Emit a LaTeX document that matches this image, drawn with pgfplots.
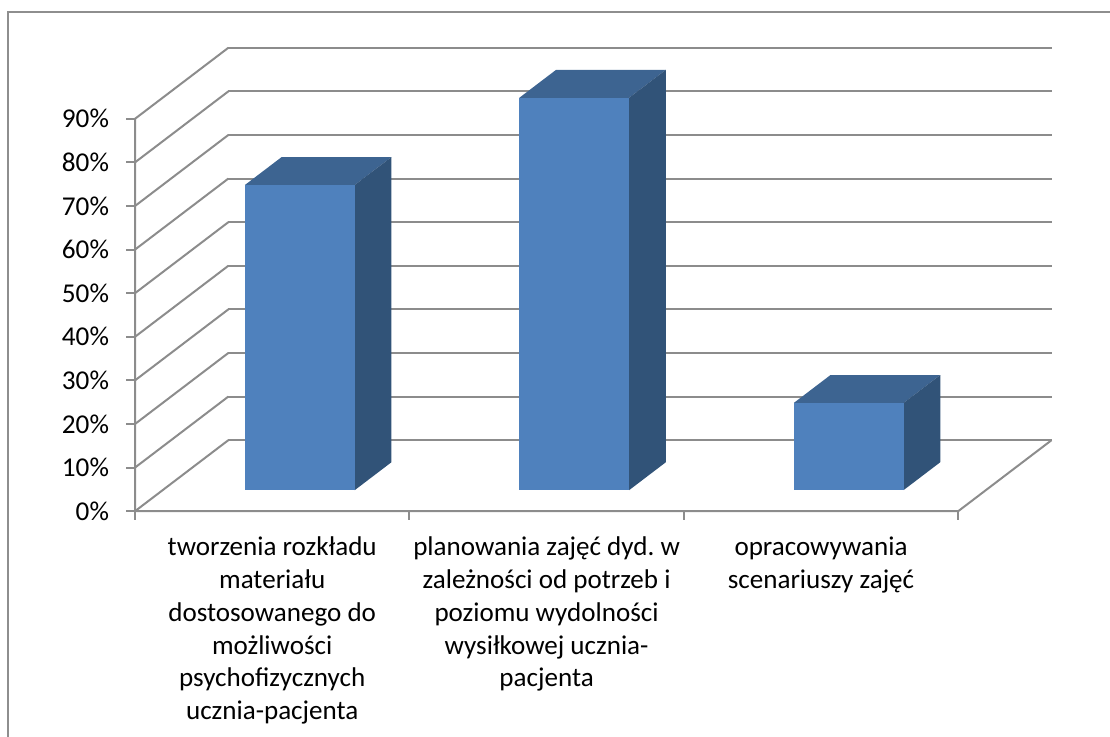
\documentclass[border=0pt]{standalone}
\usepackage{fontspec}
\setmainfont{Carlito}
\usepackage{pgfplots}
\pgfplotsset{compat=1.18}
\frenchspacing

\definecolor{linegray}{HTML}{8C8C8C}
\definecolor{framegray}{HTML}{8E8E8E}
\definecolor{barfront}{HTML}{4F81BD}
\definecolor{bartop}{HTML}{3D6491}
\definecolor{barside}{HTML}{315378}

% one 3D column: centre on the x axis, value in percent
\newcommand{\slupek}[2]{%
  \addplot3[fill=bartop,draw=none] coordinates
    {(#1-0.2,0.296,#2) (#1+0.2,0.296,#2) (#1+0.2,0.69,#2) (#1-0.2,0.69,#2)} --cycle;
  \addplot3[fill=barside,draw=none] coordinates
    {(#1+0.2,0.296,0) (#1+0.2,0.69,0) (#1+0.2,0.69,#2) (#1+0.2,0.296,#2)} --cycle;
  \addplot3[fill=barfront,draw=none] coordinates
    {(#1-0.2,0.296,0) (#1+0.2,0.296,0) (#1+0.2,0.296,#2) (#1-0.2,0.296,#2)} --cycle;
}

\begin{document}
\begin{tikzpicture}
\path[use as bounding box] (0,0) rectangle (832.5pt,552.75pt);
\draw[framegray,line width=1.1pt] (6pt,0pt) -- (6pt,543.75pt) -- (832.5pt,543.75pt);

\begin{axis}[
  at={(101.25pt,169.35pt)},anchor=origin,
  x={(205.8pt,0pt)},y={(70pt,53.25pt)},z={(0pt,3.27pt)},
  xmin=0,xmax=3,ymin=0,ymax=1,zmin=0,zmax=90,
  clip=false,
  axis line style={draw=none},
  tick style={draw=none},
  ytick=\empty,
  xtick={0.5,1.5,2.5},
  xticklabels={
    {tworzenia rozkładu\\materiału\\dostosowanego do\\możliwości\\psychofizycznych\\ucznia-pacjenta},
    {planowania zajęć dyd. w\\zależności od potrzeb i\\poziomu wydolności\\wysiłkowej ucznia-\\pacjenta},
    {opracowywania\\scenariuszy zajęć}},
  xticklabel style={align=center,anchor=north,font=\fontsize{20.3}{24.6}\selectfont,yshift=-15.8pt},
  ztick={0,10,...,90},
  zticklabels={0\%,10\%,20\%,30\%,40\%,50\%,60\%,70\%,80\%,90\%},
  zticklabel style={anchor=east,font=\fontsize{20.4}{24.6}\selectfont,xshift=-16pt},
  zmajorgrids,
  major grid style={linegray,line width=1.5pt},
]
% axis lines and tick marks
\addplot3[linegray,line width=1.5pt] coordinates {(0,0,90) (0,0,0) (3,0,0) (3,1,0)};
\pgfplotsinvokeforeach{0,10,...,90}{
  \addplot3[linegray,line width=1.5pt] coordinates {(0,0,#1) (-0.031,0,#1)};
}
\pgfplotsinvokeforeach{0,1,2,3}{
  \addplot3[linegray,line width=1.5pt] coordinates {(#1,0,0) (#1,0,-2.1)};
}
\slupek{0.5}{70}
\slupek{1.5}{90}
\slupek{2.5}{20}
\end{axis}
\end{tikzpicture}
\end{document}
